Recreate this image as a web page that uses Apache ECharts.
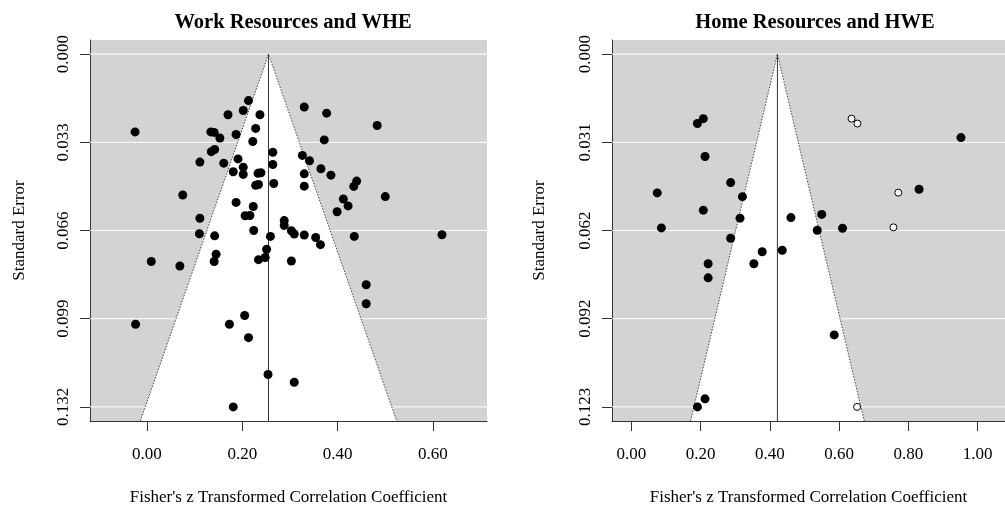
<!DOCTYPE html>
<html>
<head>
<meta charset="utf-8">
<script src="https://cdn.jsdelivr.net/npm/echarts@6/dist/echarts.min.js"></script>
<style>
  html, body { margin: 0; padding: 0; background: #fff; }
  #chart { width: 1005px; height: 511px; }
</style>
</head>
<body>
<div id="chart"></div>
<script>
// work resources and WHE
const workX = [-0.025, 0.213, 0.330, 0.170, 0.202, 0.237, 0.377, 0.483, 0.228, 0.134, 0.141, 0.187, 0.153, 0.222, 0.372, 0.135, 0.142, 0.264, 0.111, 0.161, 0.191, 0.202, 0.264, 0.326, 0.341, 0.181, 0.202, 0.233, 0.239, 0.330, 0.365, 0.386, 0.228, 0.234, 0.266, 0.330, 0.434, 0.440, 0.075, 0.500, 0.412, 0.187, 0.422, 0.399, 0.223, 0.206, 0.216, 0.111, 0.288, 0.288, 0.224, 0.303, 0.309, 0.110, 0.142, 0.259, 0.330, 0.354, 0.435, 0.619, 0.364, 0.251, 0.145, 0.009, 0.069, 0.141, 0.234, 0.248, 0.303, 0.460, 0.460, -0.024, 0.205, 0.173, 0.213, 0.254, 0.309, 0.181];
const workSE = [0.0291, 0.0174, 0.0198, 0.0227, 0.0211, 0.0227, 0.0221, 0.0267, 0.0278, 0.0291, 0.0293, 0.0301, 0.0314, 0.0327, 0.0321, 0.0365, 0.0357, 0.0367, 0.0404, 0.0408, 0.0392, 0.0423, 0.0413, 0.0379, 0.0399, 0.0440, 0.0450, 0.0446, 0.0444, 0.0448, 0.0429, 0.0453, 0.0491, 0.0488, 0.0484, 0.0494, 0.0495, 0.0475, 0.0527, 0.0533, 0.0542, 0.0555, 0.0568, 0.0590, 0.0570, 0.0605, 0.0604, 0.0614, 0.0623, 0.0641, 0.0660, 0.0661, 0.0673, 0.0672, 0.0680, 0.0682, 0.0677, 0.0686, 0.0682, 0.0676, 0.0713, 0.0730, 0.0749, 0.0776, 0.0793, 0.0776, 0.0769, 0.0761, 0.0774, 0.0863, 0.0934, 0.1011, 0.0978, 0.1011, 0.1061, 0.1199, 0.1228, 0.1320];
const workEstimate = 0.255;
const workTicksX = [0, 0.2, 0.4, 0.6];
const workTicksSE = [0, 0.033, 0.066, 0.099, 0.132];
const workLabelsSE = ["0.000", "0.033", "0.066", "0.099", "0.132"];

// home resources and HWE
const homeX = [0.191, 0.208, 0.213, 0.952, 0.287, 0.075, 0.321, 0.831, 0.208, 0.550, 0.461, 0.314, 0.087, 0.537, 0.610, 0.287, 0.378, 0.436, 0.222, 0.354, 0.222, 0.586, 0.213, 0.191];
const homeSE = [0.0242, 0.0225, 0.0357, 0.0291, 0.0448, 0.0484, 0.0497, 0.0471, 0.0544, 0.0559, 0.0570, 0.0572, 0.0606, 0.0614, 0.0607, 0.0642, 0.0689, 0.0684, 0.0731, 0.0731, 0.0780, 0.0979, 0.1202, 0.1230];
const homeFilledX = [0.636, 0.653, 0.771, 0.757, 0.652];
const homeFilledSE = [0.0225, 0.0242, 0.0483, 0.0604, 0.1230];
const homeEstimate = 0.422;
const homeTicksX = [0, 0.2, 0.4, 0.6, 0.8, 1.0];
const homeTicksSE = [0, 0.03075, 0.0615, 0.09225, 0.123];
const homeLabelsSE = ["0.000", "0.031", "0.062", "0.092", "0.123"];

const font = "Liberation Serif";
const axisColor = "#333";

function panel(index, cfg) {
  const seMax = cfg.ticksSE[cfg.ticksSE.length - 1];
  const pad = seMax * 0.04;
  const bottomSE = seMax + pad;
  const grid = {
    left: cfg.left, top: 40, width: cfg.width, height: 382,
    show: true, backgroundColor: "#d3d3d3", borderWidth: 0
  };
  const xAxis = {
    gridIndex: index, type: "value", min: cfg.xMin, max: cfg.xMax, position: "bottom",
    axisLine: { onZero: false, lineStyle: { color: axisColor, width: 1 } },
    axisTick: { customValues: cfg.ticksX, length: 10, lineStyle: { color: axisColor } },
    axisLabel: {
      customValues: cfg.ticksX, formatter: (v) => v.toFixed(2),
      fontFamily: font, fontSize: 17, color: "#000", margin: 25
    },
    splitLine: { show: false },
    name: "Fisher's z Transformed Correlation Coefficient",
    nameLocation: "middle", nameGap: 68,
    nameTextStyle: { fontFamily: font, fontSize: 17, color: "#000" }
  };
  const yAxis = {
    gridIndex: index, type: "value", inverse: true, min: -pad, max: bottomSE,
    axisLine: { onZero: false, lineStyle: { color: axisColor, width: 1 } },
    axisTick: { customValues: cfg.ticksSE, length: 10, lineStyle: { color: axisColor } },
    axisLabel: {
      customValues: cfg.ticksSE, rotate: 90,
      formatter: (v) => {
        let best = 0;
        cfg.ticksSE.forEach((t, i) => { if (Math.abs(t - v) < Math.abs(cfg.ticksSE[best] - v)) best = i; });
        return cfg.labelsSE[best];
      },
      fontFamily: font, fontSize: 17, color: "#000", margin: 18
    },
    splitLine: { show: false },
    name: "Standard Error", nameLocation: "middle", nameGap: cfg.nameGapY,
    nameTextStyle: { fontFamily: font, fontSize: 17, color: "#000" }
  };
  const z = 1.96;
  const series = [
    {
      // white grid lines at the y ticks
      type: "custom", xAxisIndex: index, yAxisIndex: index, z: 1, silent: true,
      data: cfg.ticksSE.map((t) => [cfg.estimate, t]),
      renderItem: (params, api) => {
        const p = api.coord([api.value(0), api.value(1)]);
        const cs = params.coordSys;
        return {
          type: "line",
          shape: { x1: cs.x, y1: p[1], x2: cs.x + cs.width, y2: p[1] },
          style: { stroke: "#fff", lineWidth: 1 }
        };
      }
    },
    {
      // funnel region
      type: "custom", xAxisIndex: index, yAxisIndex: index, z: 2, silent: true,
      data: [[cfg.estimate, bottomSE]],
      renderItem: (params, api) => {
        const est = api.value(0), se = api.value(1);
        const top = api.coord([est, 0]);
        const bl = api.coord([est - z * se, se]);
        const br = api.coord([est + z * se, se]);
        return {
          type: "polygon",
          shape: { points: [top, bl, br] },
          style: { fill: "#fff", stroke: null }
        };
      }
    },
    {
      type: "line", xAxisIndex: index, yAxisIndex: index, z: 3, silent: true,
      symbol: "none", animation: false,
      data: [[cfg.estimate - z * bottomSE, bottomSE], [cfg.estimate, 0], [cfg.estimate + z * bottomSE, bottomSE]],
      lineStyle: { color: "#444", width: 1, type: [1.5, 1.5] }
    },
    {
      type: "line", xAxisIndex: index, yAxisIndex: index, z: 3, silent: true,
      symbol: "none", animation: false,
      data: [[cfg.estimate, 0], [cfg.estimate, bottomSE]],
      lineStyle: { color: "#333", width: 1 }
    },
    {
      type: "scatter", xAxisIndex: index, yAxisIndex: index, z: 4,
      symbol: "circle", symbolSize: 9, animation: false,
      itemStyle: { color: "#000", opacity: 1 },
      data: cfg.x.map((v, i) => [v, cfg.se[i]])
    }
  ];
  if (cfg.filledX) {
    series.push({
      type: "scatter", xAxisIndex: index, yAxisIndex: index, z: 4,
      symbol: "circle", symbolSize: 7, animation: false,
      itemStyle: { color: "#fff", borderColor: "#000", borderWidth: 1, opacity: 1 },
      data: cfg.filledX.map((v, i) => [v, cfg.filledSE[i]])
    });
  }
  return { grid, xAxis, yAxis, series };
}

const left = panel(0, {
  left: 90, width: 397, xMin: -0.1196, xMax: 0.7135, nameGapY: 62,
  x: workX, se: workSE, estimate: workEstimate,
  ticksX: workTicksX, ticksSE: workTicksSE, labelsSE: workLabelsSE
});
const right = panel(1, {
  left: 612, width: 396, xMin: -0.0556, xMax: 1.0791, nameGapY: 64,
  x: homeX, se: homeSE, filledX: homeFilledX, filledSE: homeFilledSE, estimate: homeEstimate,
  ticksX: homeTicksX, ticksSE: homeTicksSE, labelsSE: homeLabelsSE
});

const chart = echarts.init(document.getElementById("chart"));
chart.setOption({
  animation: false,
  backgroundColor: "#fff",
  title: [
    { text: "Work Resources and WHE", left: 288, top: 7, textAlign: "center",
      textStyle: { fontFamily: font, fontSize: 20.5, fontWeight: "bold", color: "#000" } },
    { text: "Home Resources and HWE", left: 810, top: 7, textAlign: "center",
      textStyle: { fontFamily: font, fontSize: 20.5, fontWeight: "bold", color: "#000" } }
  ],
  grid: [left.grid, right.grid],
  xAxis: [left.xAxis, right.xAxis],
  yAxis: [left.yAxis, right.yAxis],
  series: [...left.series, ...right.series]
});
</script>
</body>
</html>
